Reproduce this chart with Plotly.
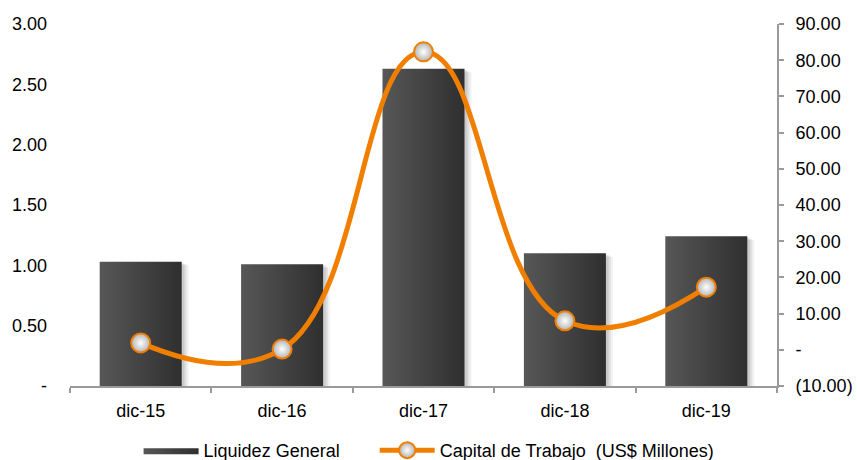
import plotly.graph_objects as go

# Periods and indicators
categories = ["dic-15", "dic-16", "dic-17", "dic-18", "dic-19"]
liquidez_general = [1.03, 1.01, 2.63, 1.10, 1.24]
capital_trabajo = [1.9, 0.2, 82.3, 8.0, 17.3]

left_ticks = [0, 0.5, 1.0, 1.5, 2.0, 2.5, 3.0]
left_labels = ["-", "0.50", "1.00", "1.50", "2.00", "2.50", "3.00"]
right_ticks = [-10, 0, 10, 20, 30, 40, 50, 60, 70, 80, 90]
right_labels = ["(10.00)", "-", "10.00", "20.00", "30.00", "40.00",
                "50.00", "60.00", "70.00", "80.00", "90.00"]

FONT = "Liberation Sans, Arial, sans-serif"
FONT_SIZE = 18
ORANGE = "#F07F00"
AXIS_GREY = "#9a9a9a"
BAR_HALF = 0.29
LEGEND_PAD = "\u00a0" * 6  # extra room between the two legend entries

positions = list(range(len(categories)))
fig = go.Figure()

# soft drop shadow behind each bar
for i, v in zip(positions, liquidez_general):
    for dx, a in [(0.05, 0.05), (0.035, 0.07), (0.02, 0.09)]:
        x0, x1 = i - BAR_HALF + dx, i + BAR_HALF + dx
        y1 = v - dx * 0.6
        fig.add_trace(go.Scatter(
            x=[x0, x1, x1, x0, x0], y=[0, 0, y1, y1, 0],
            mode="lines", fill="toself", line=dict(width=0),
            fillcolor=f"rgba(0,0,0,{a})", hoverinfo="skip",
            showlegend=False, yaxis="y"))

# bars with a horizontal dark-grey gradient
for n, (i, v) in enumerate(zip(positions, liquidez_general)):
    x0, x1 = i - BAR_HALF, i + BAR_HALF
    fig.add_trace(go.Scatter(
        x=[x0, x1, x1, x0, x0], y=[0, 0, v, v, 0],
        mode="lines", fill="toself", line=dict(width=0),
        fillgradient=dict(type="horizontal",
                          colorscale=[[0, "#575757"], [1, "#2f2f2f"]]),
        name="Liquidez General" + LEGEND_PAD, legendgroup="liq",
        showlegend=(n == 0), yaxis="y",
        hovertemplate="%{y:.2f}<extra></extra>"))

# working capital, smoothed line on the right axis
fig.add_trace(go.Scatter(
    x=positions, y=capital_trabajo, yaxis="y2",
    mode="lines+markers",
    name="Capital de Trabajo  (US$ Millones)",
    line=dict(color=ORANGE, width=5, shape="spline", smoothing=1.3),
    marker=dict(size=19, color="#b4b4b4",
                gradient=dict(type="radial", color="#ffffff"),
                line=dict(color=ORANGE, width=2)),
))

fig.update_layout(
    width=857, height=460,
    margin=dict(l=70, r=80, t=24, b=74, autoexpand=False),
    plot_bgcolor="white", paper_bgcolor="white",
    font=dict(family=FONT, size=FONT_SIZE, color="black"),
    xaxis=dict(
        range=[-0.5, 4.5], tickmode="array", tickvals=positions,
        ticktext=categories, showgrid=False, zeroline=False,
        showline=True, linecolor=AXIS_GREY, linewidth=2,
        ticks="outside", ticklen=0, tickcolor=AXIS_GREY,
        minor=dict(tickmode="array",
                   tickvals=[p - 0.5 for p in positions] + [positions[-1] + 0.5],
                   ticks="outside", ticklen=5, tickcolor=AXIS_GREY, tickwidth=2),
        ticklabelstandoff=7,
    ),
    yaxis=dict(
        range=[0, 3], tickmode="array", tickvals=left_ticks,
        ticktext=left_labels, showgrid=False, zeroline=False,
        showline=False, ticks="", ticklabelstandoff=22,
    ),
    yaxis2=dict(
        range=[-10, 90], tickmode="array", tickvals=right_ticks,
        ticktext=right_labels, overlaying="y", side="right",
        showgrid=False, zeroline=False, showline=True,
        linecolor=AXIS_GREY, linewidth=2, ticks="outside", ticklen=5,
        tickcolor=AXIS_GREY, tickwidth=2, ticklabelstandoff=8,
    ),
    legend=dict(orientation="h", x=0.097, xanchor="left",
                y=-0.178, yanchor="middle", itemwidth=55,
                font=dict(size=FONT_SIZE), traceorder="normal"),
    hovermode="closest",
)

fig.write_html("out.html")
